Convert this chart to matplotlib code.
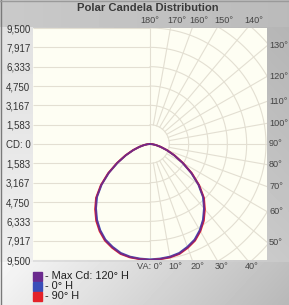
import numpy as np
import matplotlib.pyplot as plt

# candela values, vertical angle 0..90 deg (step 5)
va = [0, 5, 10, 15, 20, 25, 30, 35, 40, 45, 50, 55, 60, 65, 70, 75, 80, 85, 90]
cd_max120 = [9500, 9460, 9410, 9290, 9010, 8690, 8200, 7620, 6930, 6200,
             5220, 4160, 3100, 2200, 1470, 900, 490, 200, 0]
cd_0h = [9450, 9420, 9370, 9240, 8960, 8640, 8150, 7570, 6880, 6140,
         5170, 4110, 3060, 2170, 1450, 880, 480, 190, 0]
cd_90h = [9500, 9470, 9430, 9320, 9050, 8730, 8250, 7680, 6990, 6250,
          5260, 4190, 3130, 2230, 1490, 910, 500, 200, 0]

cd_ticks = [-9500, -7917, -6333, -4750, -3167, -1583, 0,
            1583, 3167, 4750, 6333, 7917, 9500]
cd_labels = ["9,500", "7,917", "6,333", "4,750", "3,167", "1,583", "CD: 0",
             "1,583", "3,167", "4,750", "6,333", "7,917", "9,500"]
top_angles = [180, 170, 160, 150, 140]
right_angles = [130, 120, 110, 100, 90, 80, 70, 60, 50]
bottom_angles = [0, 10, 20, 30, 40]
legend_names = ["- Max Cd: 120\u00b0 H", "- 0\u00b0 H", "- 90\u00b0 H"]
colors = ["#6b2a8e", "#3a4db8", "#e4222a"]

W, H = 289, 305
fig = plt.figure(figsize=(W / 100, H / 100), dpi=100)

# grey gradient background
xx, yy = np.meshgrid(np.arange(W), np.arange(H))
bg = 0.80 - 0.10 * xx / W + 0.10 * yy / H
strip = (xx < 33) & (yy > 26) & (yy < 262)
bg[strip] = 0.88 + 0.06 * yy[strip] / H
low = yy >= 262
bg[low] = 0.97 - 0.22 * xx[low] / W - 0.03 * (yy[low] - 262) / 43
bg[yy < 27] = 0.79 - 0.06 * xx[yy < 27] / W
bga = fig.add_axes([0, 0, 1, 1])
bga.imshow(bg, cmap="gray", vmin=0, vmax=1, extent=[0, W, H, 0], aspect="auto")
bga.plot([0.5, 0.5], [0, H], color="#7a7a7a", lw=1)
bga.plot([0, W], [0.5, 0.5], color="#9a9a9a", lw=1)
bga.set_xlim(0, W)
bga.set_ylim(H, 0)
bga.axis("off")

# plot area in pixels
L, R, T, B = 33, 267, 28, 260
cx = 150
scale = 9500 / ((B - T) / 2)
ax = fig.add_axes([L / W, (H - B) / H, (R - L) / W, (B - T) / H])
ax.set_facecolor("#fefef3")
xmin, xmax = -(cx - L) * scale, (R - cx) * scale
ax.set_xlim(xmin, xmax)
ax.set_ylim(-9500, 9500)
for s in ax.spines.values():
    s.set_visible(False)

gc = "#e3dfd2"
# left half: horizontal lines
ax.hlines(cd_ticks, xmin, 0, color=gc, lw=0.8, zorder=1)
ax.axvline(0, color=gc, lw=0.8, zorder=1)
# right half: polar grid
step = 9500 / 6
t = np.radians(np.linspace(0, 180, 181))
for k in range(1, 9):
    r = k * step
    ax.plot(r * np.sin(t), -r * np.cos(t), color=gc, lw=0.8, zorder=1)
for a in range(10, 180, 10):
    ar = np.radians(a)
    ax.plot([step * np.sin(ar), 20000 * np.sin(ar)],
            [-step * np.cos(ar), -20000 * np.cos(ar)], color=gc, lw=0.8, zorder=1)

# curves
ang = np.radians(np.array([-v for v in va[::-1]] + va[1:]))
for vals, c, lw, z in [(cd_0h, colors[1], 1.4, 3), (cd_90h, colors[2], 1.4, 3),
                       (cd_max120, colors[0], 1.1, 4)]:
    r = np.array(vals[::-1] + vals[1:])
    ax.plot(r * np.sin(ang), -r * np.cos(ang), color=c, lw=lw, zorder=z,
            solid_capstyle="round")

# cd tick labels
ax.set_xticks([])
ax.set_yticks(cd_ticks)
ax.set_yticklabels(cd_labels, ha="left", fontsize=7, color="#333333",
                   family="Liberation Sans")
ax.tick_params(axis="y", length=0, pad=(L - 6) * 0.72)

tc = "#454545"
tk = dict(fontsize=6.6, color=tc, family="Liberation Sans", clip_on=False)
for a in top_angles:
    x = 9500 * np.tan(np.radians(180 - a))
    if a == 180:
        ax.annotate(f"{a}\u00b0", (x, 9500), xytext=(0, 5.5), textcoords="offset points",
                    ha="center", va="center", **tk)
    else:
        ax.annotate(f"{a}\u00b0", (x, 9500), xytext=(-2, 5.5), textcoords="offset points",
                    ha="left", va="center", **tk)
for a in right_angles:
    y = -xmax / np.tan(np.radians(a))
    ax.annotate(f"{a}\u00b0", (xmax, y), xytext=(1.5, 0), textcoords="offset points",
                ha="left", va="center", **tk)
for a in bottom_angles:
    x = 9500 * np.tan(np.radians(a))
    if a == 0:
        ax.annotate("VA: 0\u00b0", (x, -9500), xytext=(9, -5), textcoords="offset points",
                    ha="right", va="center", **tk)
    else:
        ax.annotate(f"{a}\u00b0", (x, -9500), xytext=(-1.5, -5), textcoords="offset points",
                    ha="left", va="center", **tk)

fig.text(148 / W, 1 - 8 / H, "Polar Candela Distribution", ha="center", va="center",
         fontsize=8.1, fontweight="bold", color="#3a3a3a", family="Liberation Sans")

# legend
for i, (name, c) in enumerate(zip(legend_names, colors)):
    yc = 276 + i * 10
    bga.add_patch(plt.Rectangle((33, yc - 4.5), 9, 9, color=c))
    bga.text(45, yc, name, ha="left", va="center", fontsize=7.9, color="#222222",
             family="Liberation Sans")

fig.savefig("out.png", dpi=100)
